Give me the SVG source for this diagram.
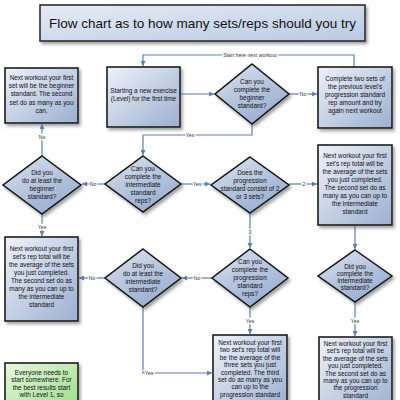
<svg xmlns="http://www.w3.org/2000/svg" width="400" height="400" viewBox="0 0 400 400">
<defs>
<linearGradient id="gb" x1="0" y1="0" x2="1" y2="1">
<stop offset="0" stop-color="#eef2f9"/><stop offset="1" stop-color="#9bafd0"/>
</linearGradient>
<linearGradient id="gd" x1="0" y1="0" x2="0.6" y2="1">
<stop offset="0" stop-color="#dbe3ef"/><stop offset="1" stop-color="#98add0"/>
</linearGradient>
<linearGradient id="gt" x1="0" y1="0" x2="1" y2="1">
<stop offset="0" stop-color="#e6ecf5"/><stop offset="1" stop-color="#b9c9e2"/>
</linearGradient>
<linearGradient id="gg" x1="0" y1="0" x2="1" y2="1">
<stop offset="0" stop-color="#e6f8de"/><stop offset="1" stop-color="#98dc86"/>
</linearGradient>
<filter id="sh" x="-10%" y="-10%" width="125%" height="125%">
<feDropShadow dx="2" dy="2.5" stdDeviation="1.5" flood-color="#666" flood-opacity="0.6"/>
</filter>
<marker id="ar" viewBox="0 0 6 6" refX="6" refY="3" markerWidth="5" markerHeight="5" orient="auto" markerUnits="userSpaceOnUse">
<path d="M0,0 L6,3 L0,6 z" fill="#5a7fb6"/>
</marker>
<style>
.box{fill:url(#gb);stroke:#111;stroke-width:1.5;filter:url(#sh)}
.dia{fill:url(#gd);stroke:#111;stroke-width:1.5;filter:url(#sh)}
.t{font-family:"Liberation Sans",Arial,sans-serif;font-size:6.4px;fill:#111;text-anchor:middle}
.c{fill:none;stroke:#5a7fb6;stroke-width:1.2;marker-end:url(#ar)}
.l{font-family:"Liberation Sans",Arial,sans-serif;font-size:5.2px;fill:#333;text-anchor:middle;stroke:#fff;stroke-width:2.5;paint-order:stroke}
</style>
</defs>
<rect width="400" height="400" fill="#fff"/>

<g id="title">
<rect x="40" y="5" width="325" height="36" fill="url(#gt)" stroke="#222" stroke-width="1.5" filter="url(#sh)"/>
<text x="202.5" y="27.5" font-family="'Liberation Sans',Arial,sans-serif" font-size="13.5" text-anchor="middle" fill="#111">Flow chart as to how many sets/reps should you try</text>
</g>

<g id="connectors">
<polyline class="c" points="354,67 354,55 143,55 143,66"/>
<text class="l" x="250" y="57">Start here next workout</text>
<line class="c" x1="180" y1="94" x2="214" y2="94"/>
<line class="c" x1="289" y1="94" x2="317" y2="94"/>
<text class="l" x="303" y="96">No</text>
<polyline class="c" points="252,124 252,135 143,135 143,155"/>
<text class="l" x="190" y="137">Yes</text>
<line class="c" x1="105" y1="184" x2="82" y2="184"/>
<text class="l" x="93" y="186">No</text>
<line class="c" x1="42" y1="156" x2="42" y2="124"/>
<text class="l" x="42" y="139">No</text>
<line class="c" x1="42" y1="214" x2="42" y2="236"/>
<text class="l" x="42" y="229">Yes</text>
<line class="c" x1="181" y1="184" x2="210" y2="184"/>
<text class="l" x="197" y="186">Yes</text>
<line class="c" x1="289" y1="184" x2="317" y2="184"/>
<text class="l" x="304" y="186">2</text>
<line class="c" x1="250" y1="213" x2="250" y2="248"/>
<text class="l" x="250" y="234">3</text>
<line class="c" x1="355" y1="225" x2="355" y2="249"/>
<line class="c" x1="212" y1="278" x2="182" y2="278"/>
<text class="l" x="197" y="280">No</text>
<line class="c" x1="105" y1="278" x2="79" y2="278"/>
<text class="l" x="92" y="280">No</text>
<polyline class="c" points="143,307 143,373 212,373"/>
<text class="l" x="149" y="375">Yes</text>
<line class="c" x1="250" y1="307" x2="250" y2="334"/>
<text class="l" x="250" y="323">Yes</text>
<line class="c" x1="355" y1="302" x2="355" y2="336"/>
<text class="l" x="355" y="323">Yes</text>
</g>

<g id="box-beginner">
<rect class="box" x="5" y="68" width="73" height="55"/>
<text class="t" x="41.5" y="80">Next workout your first</text>
<text class="t" x="41.5" y="88.2">set will be the beginner</text>
<text class="t" x="41.5" y="96.4">standard.  The second</text>
<text class="t" x="41.5" y="104.6">set do as many as you</text>
<text class="t" x="41.5" y="112.8">can.</text>
</g>

<g id="box-start">
<rect class="box" x="107" y="67" width="73" height="60"/>
<text class="t" x="143.5" y="92.5">Starting a new exercise</text>
<text class="t" x="143.5" y="101">(Level) for the first time</text>
</g>

<g id="dia-beginner">
<polygon class="dia" points="252,64 289,94 252,124 215,94"/>
<text class="t" x="252" y="84">Can you</text>
<text class="t" x="252" y="92">complete the</text>
<text class="t" x="252" y="100">beginner</text>
<text class="t" x="252" y="108">standard?</text>
</g>

<g id="box-previous">
<rect class="box" x="318" y="67" width="74" height="61"/>
<text class="t" x="355" y="81">Complete two sets of</text>
<text class="t" x="355" y="89">the previous level's</text>
<text class="t" x="355" y="97">progression standard</text>
<text class="t" x="355" y="105">rep amount and try</text>
<text class="t" x="355" y="113">again next workout</text>
</g>

<g id="dia-intermediate">
<polygon class="dia" points="143,156 181,184 143,212 105,184"/>
<text class="t" x="143" y="171">Can you</text>
<text class="t" x="143" y="179">complete the</text>
<text class="t" x="143" y="187">intermediate</text>
<text class="t" x="143" y="195">standard</text>
<text class="t" x="143" y="203">reps?</text>
</g>

<g id="dia-atleast-beginner">
<polygon class="dia" points="42,156 81,185 42,214 3,185"/>
<text class="t" x="42" y="175">Did you</text>
<text class="t" x="42" y="183">do at least the</text>
<text class="t" x="42" y="191">beginner</text>
<text class="t" x="42" y="199">standard?</text>
</g>

<g id="dia-sets">
<polygon class="dia" points="250,157 289,185 250,213 211,185"/>
<text class="t" x="250" y="175">Does the</text>
<text class="t" x="250" y="183">progression</text>
<text class="t" x="250" y="191">standard consist of 2</text>
<text class="t" x="250" y="199">or 3 sets?</text>
</g>

<g id="box-two-sets">
<rect class="box" x="318" y="145" width="74" height="80"/>
<text class="t" x="355" y="158">Next workout your first</text>
<text class="t" x="355" y="166">set's rep total will be</text>
<text class="t" x="355" y="174">the average of the sets</text>
<text class="t" x="355" y="182">you just completed.</text>
<text class="t" x="355" y="190">The second set do as</text>
<text class="t" x="355" y="198">many as you can up to</text>
<text class="t" x="355" y="206">the intermediate</text>
<text class="t" x="355" y="214">standard</text>
</g>

<g id="box-left-intermediate">
<rect class="box" x="5" y="237" width="73" height="84"/>
<text class="t" x="41.5" y="251">Next workout your first</text>
<text class="t" x="41.5" y="259">set's rep total will be</text>
<text class="t" x="41.5" y="267">the average of the sets</text>
<text class="t" x="41.5" y="275">you just completed.</text>
<text class="t" x="41.5" y="283">The second set do as</text>
<text class="t" x="41.5" y="291">many as you can up to</text>
<text class="t" x="41.5" y="299">the intermediate</text>
<text class="t" x="41.5" y="307">standard</text>
</g>

<g id="dia-atleast-intermediate">
<polygon class="dia" points="143,249 181,278 143,307 105,278"/>
<text class="t" x="143" y="268">Did you</text>
<text class="t" x="143" y="276">do at least the</text>
<text class="t" x="143" y="284">intermediate</text>
<text class="t" x="143" y="292">standard?</text>
</g>

<g id="dia-progression">
<polygon class="dia" points="250,249 288,278 250,307 212,278"/>
<text class="t" x="250" y="264">Can you</text>
<text class="t" x="250" y="272">complete the</text>
<text class="t" x="250" y="280">progression</text>
<text class="t" x="250" y="288">standard</text>
<text class="t" x="250" y="296">reps?</text>
</g>

<g id="dia-complete-intermediate">
<polygon class="dia" points="355,250 392,276 355,302 318,276"/>
<text class="t" x="355" y="269">Did you</text>
<text class="t" x="355" y="276">complete the</text>
<text class="t" x="355" y="283">intermediate</text>
<text class="t" x="355" y="290">standard?</text>
</g>

<g id="box-three-sets">
<rect class="box" x="213" y="335" width="74" height="75"/>
<text class="t" x="250" y="345">Next workout your first</text>
<text class="t" x="250" y="352.4">two set's rep total will</text>
<text class="t" x="250" y="359.8">be the average of the</text>
<text class="t" x="250" y="367.2">three sets you just</text>
<text class="t" x="250" y="374.6">completed.  The third</text>
<text class="t" x="250" y="382">set do as many as you</text>
<text class="t" x="250" y="389.4">can up to the</text>
<text class="t" x="250" y="396.8">progression standard</text>
</g>

<g id="box-progression">
<rect class="box" x="319" y="337" width="73" height="75"/>
<text class="t" x="355.5" y="346">Next workout your first</text>
<text class="t" x="355.5" y="353.4">set's rep total will be</text>
<text class="t" x="355.5" y="360.8">the average of the sets</text>
<text class="t" x="355.5" y="368.2">you just completed.</text>
<text class="t" x="355.5" y="375.6">The second set do as</text>
<text class="t" x="355.5" y="383">many as you can up to</text>
<text class="t" x="355.5" y="390.4">the progression</text>
<text class="t" x="355.5" y="397.8">standard</text>
</g>

<g id="note">
<rect x="5" y="363" width="73" height="50" fill="url(#gg)" stroke="#111" stroke-width="1.5" filter="url(#sh)"/>
<text class="t" x="41.5" y="375">Everyone needs to</text>
<text class="t" x="41.5" y="382.4">start somewhere.  For</text>
<text class="t" x="41.5" y="389.8">the best results start</text>
<text class="t" x="41.5" y="397.2">with Level 1, so</text>
</g>
</svg>
